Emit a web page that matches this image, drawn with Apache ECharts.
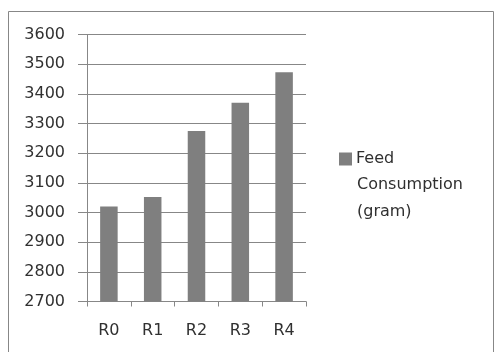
<!DOCTYPE html>
<html>
<head>
<meta charset="utf-8">
<style>
  html, body { margin: 0; padding: 0; background: #fff; }
  #chart { width: 494px; height: 352px; }
</style>
<script src="https://cdn.jsdelivr.net/npm/echarts@6/dist/echarts.min.js"></script>
</head>
<body>
<div id="chart"></div>
<script>
// Feed consumption per treatment group
const categories = ['R0', 'R1', 'R2', 'R3', 'R4'];
const feedConsumption = [3020, 3052, 3275, 3370, 3473];
const seriesName = 'Feed Consumption (gram)';
const yMin = 2700;
const yMax = 3600;
const yStep = 100;

const textColor = '#303030';
const lineColor = '#878787';
const barColor = '#7f7f7f';
const fontFamily = 'DejaVu Sans';

const chart = echarts.init(document.getElementById('chart'), null, { renderer: 'canvas' });

chart.setOption({
  animation: false,
  backgroundColor: '#fff',
  textStyle: { fontFamily: fontFamily, color: textColor },
  grid: { left: 87, top: 34.5, right: 188, bottom: 50.5 },
  xAxis: {
    type: 'category',
    data: categories,
    axisLine: { show: true, lineStyle: { color: lineColor, width: 1 } },
    axisTick: { show: true, length: 5, lineStyle: { color: lineColor } },
    axisLabel: { color: textColor, fontSize: 16, fontFamily: fontFamily, margin: 21 },
    splitLine: { show: false }
  },
  yAxis: {
    type: 'value',
    min: yMin,
    max: yMax,
    interval: yStep,
    axisLine: { show: true, lineStyle: { color: lineColor, width: 1 } },
    axisTick: { show: true, length: 9, lineStyle: { color: lineColor } },
    axisLabel: {
      color: textColor, fontSize: 16, fontFamily: fontFamily, margin: 22,
      formatter: function (v) { return String(v); }
    },
    splitLine: { show: true, lineStyle: { color: lineColor, width: 1 } }
  },
  legend: {
    show: true,
    left: 334,
    top: 146,
    padding: 5,
    itemWidth: 13,
    itemHeight: 13,
    itemGap: 0,
    icon: 'rect',
    formatter: function () { return 'Feed'; },
    textStyle: { color: textColor, fontSize: 16, fontFamily: fontFamily, padding: [0, 0, 0, -1] },
    data: [seriesName]
  },
  graphic: [
    {
      type: 'rect',
      silent: true,
      shape: { x: 8.5, y: 11.5, width: 485, height: 360 },
      style: { fill: 'none', stroke: lineColor, lineWidth: 1 }
    },
    {
      type: 'text',
      silent: true,
      left: 357,
      top: 171,
      style: {
        text: 'Consumption\n(gram)',
        fill: textColor,
        font: '16px "DejaVu Sans"',
        lineHeight: 27
      }
    }
  ],
  series: [
    {
      name: seriesName,
      type: 'bar',
      data: feedConsumption,
      barWidth: '40%',
      itemStyle: { color: barColor }
    }
  ]
});
</script>
</body>
</html>
